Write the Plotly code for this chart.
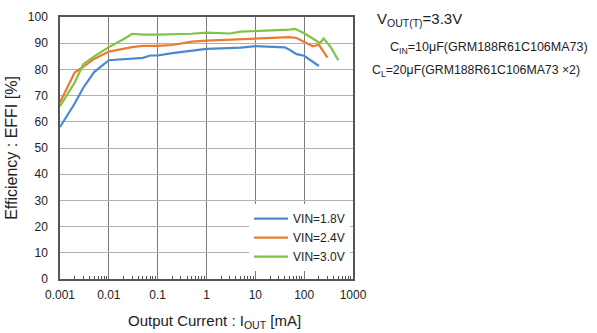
import plotly.graph_objects as go

iout_18 = [0.001, 0.002, 0.003, 0.005, 0.01, 0.02, 0.03, 0.05, 0.07, 0.1, 0.2, 0.5, 1, 2, 5, 10, 20, 40, 50, 70, 100, 200]
eff_18 = [58, 67, 73, 79, 83.5, 84, 84.2, 84.4, 85.3, 85.3, 86.2, 87.2, 87.8, 88.0, 88.3, 88.9, 88.7, 88.4, 87.5, 85.8, 85.2, 81.3]

iout_24 = [0.001, 0.002, 0.003, 0.005, 0.01, 0.02, 0.03, 0.05, 0.1, 0.2, 0.3, 0.5, 1, 2, 5, 10, 20, 50, 70, 100, 150, 200, 300]
eff_24 = [67.5, 78.8, 81, 84, 86.8, 88, 88.5, 89, 89, 89.3, 89.8, 90.6, 91, 91.2, 91.6, 91.8, 92.1, 92.3, 92, 90.6, 88.8, 89.4, 84.5]

iout_30 = [0.001, 0.002, 0.003, 0.005, 0.01, 0.02, 0.03, 0.05, 0.1, 0.2, 0.5, 1, 2, 3, 5, 10, 20, 50, 65, 100, 150, 210, 250, 350, 500]
eff_30 = [66, 75, 82, 85, 88.5, 91.5, 93.6, 93.3, 93.3, 93.4, 93.6, 94, 93.8, 93.7, 94.4, 94.6, 95, 95.2, 95.5, 93.8, 91.8, 90, 91.8, 88.5, 83.5]

series_names = ["VIN=1.8V", "VIN=2.4V", "VIN=3.0V"]
series_colors = ["#4a89d0", "#ec7a30", "#80c342"]

x_tickvals = [0.001, 0.01, 0.1, 1, 10, 100, 1000]
x_ticktext = ["0.001", "0.01", "0.1", "1", "10", "100", "1000"]

W, H = 597, 333
l, r, t, b = 60, 244, 10, 54
pw, ph = W - l - r, H - t - b


def px_x(px):
    return (px - l) / pw


def px_y(py_top):
    return (H - py_top - b) / ph


fig = go.Figure()
for xs, ys, name, col in zip([iout_18, iout_24, iout_30], [eff_18, eff_24, eff_30], series_names, series_colors):
    fig.add_trace(go.Scatter(x=xs, y=ys, mode="lines", name=name,
                             line=dict(color=col, width=2.2)))

minor_vals = [d * m for d in [0.001, 0.01, 0.1, 1, 10, 100] for m in range(2, 10)]

fig.update_layout(
    width=W, height=H,
    margin=dict(l=l, r=r, t=t, b=b),
    paper_bgcolor="white", plot_bgcolor="white",
    font=dict(family="Liberation Sans, Arial, sans-serif", size=12, color="#222"),
    showlegend=True,
    legend=dict(x=0.99, y=0.03, xanchor="right", yanchor="bottom",
                bgcolor="white", borderwidth=0, font=dict(size=12, color="#222"),
                itemwidth=34, tracegroupgap=2),
    xaxis=dict(type="log", range=[-3, 3], tickvals=x_tickvals, ticktext=x_ticktext,
               showgrid=True, gridcolor="#7a7a7a", gridwidth=1,
               showline=True, linecolor="#555", linewidth=1.5, mirror=True,
               ticks="", ticklabelstandoff=4, tickfont=dict(size=12, color="#222"),
               minor=dict(tickmode="array", tickvals=minor_vals, ticks="inside", ticklen=3,
                          tickcolor="#555", showgrid=False)),
    yaxis=dict(range=[0, 100], dtick=10, showgrid=True, gridcolor="#b0b0b0", gridwidth=1,
               showline=True, linecolor="#555", linewidth=1.5, mirror=True,
               ticks="", ticklabelstandoff=8, tickfont=dict(size=12, color="#222"),
               title=dict(text="Efficiency : EFFI [%]", font=dict(size=16, color="#222"), standoff=6)),
    annotations=[
        dict(text="Output Current : I<sub>OUT</sub> [mA]", x=px_x(214), y=px_y(323),
             xref="paper", yref="paper", showarrow=False, xanchor="center", yanchor="middle",
             font=dict(size=15, color="#222")),
        dict(text="V<sub>OUT(T)</sub>=3.3V", x=px_x(375), y=px_y(13), xref="paper", yref="paper",
             showarrow=False, xanchor="left", yanchor="middle", font=dict(size=15, color="#222")),
        dict(text="C<sub>IN</sub>=10μF(GRM188R61C106MA73)", x=px_x(388), y=px_y(42),
             xref="paper", yref="paper", showarrow=False,
             xanchor="left", yanchor="middle", font=dict(size=12.5, color="#222")),
        dict(text="C<sub>L</sub>=20μF(GRM188R61C106MA73 ×2)", x=px_x(370), y=px_y(65),
             xref="paper", yref="paper", showarrow=False,
             xanchor="left", yanchor="middle", font=dict(size=12.3, color="#222")),
    ],
)

fig.write_html("out.html")
